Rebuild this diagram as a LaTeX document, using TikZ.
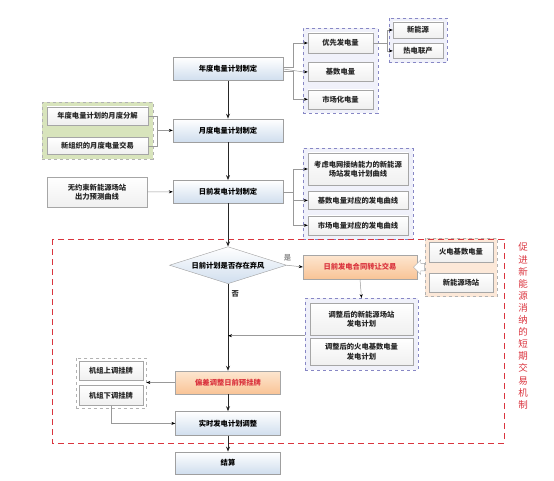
\documentclass[tikz,border=0pt]{standalone}
\usepackage{fontspec}
\usepackage{xcolor}
\usepackage{tikz}
\usetikzlibrary{arrows.meta,positioning,shapes.geometric,shapes.arrows,fit,backgrounds,calc}
\newfontfamily\cjk{Noto Sans CJK SC}
\definecolor{mainblue}{RGB}{208,222,238}
\definecolor{orglt}{RGB}{253,230,208}
\definecolor{orgdk}{RGB}{249,196,150}
\definecolor{mechred}{RGB}{218,52,62}
\definecolor{grpgreen}{RGB}{216,228,188}
\definecolor{grpblue}{RGB}{240,241,250}
\definecolor{peach}{RGB}{252,232,216}
\begin{document}
\begin{tikzpicture}[
  x=1pt,y=-1pt,
  font=\cjk\bfseries\fontsize{7.3}{9.5}\selectfont,
  mainbox/.style={draw=gray!75,top color=white,bottom color=mainblue,minimum width=110pt,minimum height=23pt,inner sep=1pt},
  subbox/.style={draw=gray!70,top color=white,bottom color=gray!12,align=center,inner sep=1pt,text=black!85},
  orgbox/.style={draw=gray!70,top color=orglt,bottom color=orgdk,text=mechred,inner sep=1pt},
  grp/.style={draw=blue!35!gray!70,dashed,fill=grpblue,inner sep=4.5pt},
  arr/.style={-{Stealth[length=4pt,width=3pt,black]},gray!80,line width=0.5pt},
  marr/.style={-{Stealth[length=5pt,width=4pt]},black!85,line width=0.8pt}
]
\useasboundingbox (0,0) rectangle (554,481);

% main column
\node[mainbox] (annual) at (228,69) {年度电量计划制定};
\node[mainbox,below=38pt of annual] (monthly) {月度电量计划制定};
\node[mainbox,below=38pt of monthly] (dayahead) {日前发电计划制定};
\node[diamond,aspect=3.16,draw=gray!75,top color=white,bottom color=mainblue,minimum width=117pt,minimum height=37pt,inner sep=0pt,below=43pt of dayahead] (curtail) {日前计划是否存在弃风};
\node[orgbox,minimum width=105pt,minimum height=23pt] (deviation) at (228,382.5) {偏差调整日前预挂牌};
\node[mainbox,minimum width=105pt,minimum height=24pt,below=17pt of deviation] (realtime) {实时发电计划调整};
\node[mainbox,minimum width=105pt,minimum height=22pt,below=16pt of realtime] (settle) {结算};

% annual plan parts
\node[subbox,minimum width=65pt,minimum height=20pt] (prior) at (340.5,43) {优先发电量};
\node[subbox,minimum width=65pt,minimum height=19pt,below=9pt of prior] (basic) {基数电量};
\node[subbox,minimum width=65pt,minimum height=19pt,below=8pt of basic] (market) {市场化电量};
\node[subbox,minimum width=50pt,minimum height=16pt] (newen) at (418,30) {新能源};
\node[subbox,minimum width=50pt,minimum height=15pt,below=5pt of newen] (chp) {热电联产};

% monthly inputs
\node[subbox,minimum width=101pt,minimum height=18pt] (split) at (97.5,116) {年度电量计划的月度分解};
\node[subbox,minimum width=101pt,minimum height=17pt,below=12pt of split] (newtrade) {新组织的月度电量交易};
\node[subbox,minimum width=100pt,minimum height=30pt] (forecast) at (97,192) {无约束新能源场站\\出力预测曲线};

% day-ahead curves
\node[subbox,minimum width=100pt,minimum height=32pt] (gridcurve) at (358,169) {考虑电网接纳能力的新能源\\场站发电计划曲线};
\node[subbox,minimum width=100pt,minimum height=18pt,below=6pt of gridcurve] (basecurve) {基数电量对应的发电曲线};
\node[subbox,minimum width=100pt,minimum height=19pt,below=6pt of basecurve] (mktcurve) {市场电量对应的发电曲线};

% transfer trade
\node[orgbox,minimum width=114pt,minimum height=24pt] (transfer) at (360,267) {日前发电合同转让交易};
\node[subbox,minimum width=64pt,minimum height=20pt] (thermal) at (461,252) {火电基数电量};
\node[subbox,minimum width=64pt,minimum height=19pt,below=11pt of thermal] (station) {新能源场站};
\node[subbox,minimum width=103pt,minimum height=32pt] (adjnew) at (361.5,319) {调整后的新能源场站\\发电计划};
\node[subbox,minimum width=103pt,minimum height=27pt,below=3pt of adjnew] (adjthermal) {调整后的火电基数电量\\发电计划};

% bidding
\node[subbox,minimum width=64pt,minimum height=19pt] (upbid) at (111,370.5) {机组上调挂牌};
\node[subbox,minimum width=64pt,minimum height=20pt,below=5pt of upbid] (downbid) {机组下调挂牌};

% groups
\begin{scope}[on background layer]
\node[grp,fit=(prior)(market)] (annualgrp) {};
\node[grp,inner sep=4pt,fit=(newen)(chp)] (priorgrp) {};
\node[grp,draw=gray!60,fill=grpgreen,inner sep=4.5pt,fit=(split)(newtrade)] (monthgrp) {};
\node[grp,fit=(gridcurve)(mktcurve)] (curvegrp) {};
\node[grp,draw=gray!60,fill=peach,inner sep=4pt,fit=(thermal)(station)] (sellgrp) {};
\node[grp,fit=(adjnew)(adjthermal)] (adjgrp) {};
\node[grp,draw=gray!60,fill=white,inner sep=3pt,fit=(upbid)(downbid)] (bidgrp) {};
\end{scope}

% short-term mechanism frame
\draw[mechred,dashed,dash pattern=on 6pt off 4pt,line width=0.8pt] (52,239) rectangle (504,443);
\node[text=mechred,font=\cjk\fontsize{9.5}{12.1}\selectfont,align=center,text width=10pt] (mechtxt) at (523,326) {促\\进\\新\\能\\源\\消\\纳\\的\\短\\期\\交\\易\\机\\制};

% connectors
\draw[marr] (annual) -- (monthly);
\draw[marr] (monthly) -- (dayahead);
\draw[marr] (dayahead) -- (curtail);
\draw[marr] (curtail) -- node[right,pos=0.12] {否} (deviation);
\draw[marr] (deviation) -- (realtime);
\draw[marr] (realtime) -- (settle);

\draw[arr] ([yshift=2pt]annual.east) -- ++(10,0) |- (prior.west);
\draw[arr] (annual.east) -- (basic.west -| annualgrp.west) -- (basic.west);
\draw[arr] ([yshift=-2pt]annual.east) -- ++(10,0) |- (market.west);
\draw[arr] (prior.east) -- ++(14,0) |- (newen.west);
\draw[arr] (prior.east) -- ++(14,0) |- (chp.west);

\coordinate (monthjoin) at ([xshift=-16pt]monthly.west);
\draw[gray!80,line width=0.5pt] (split.east) -| (monthjoin);
\draw[gray!80,line width=0.5pt] (newtrade.east) -| (monthjoin);
\draw[arr] (monthjoin) -- (monthly.west);
\draw[arr] (forecast.east) -- (dayahead.west);

\draw[arr] (dayahead.east) -- ++(10,0) |- (gridcurve.west);
\draw[arr] (dayahead.east) -- ++(10,0) |- (basecurve.west);
\draw[arr] (dayahead.east) -- ++(10,0) |- (mktcurve.west);

\draw[arr] (curtail.east) -- node[above,pos=0.05] {是} (transfer.west);
\draw[arr] (transfer.south) -- (adjgrp.north);
\node[single arrow,draw=gray!70,fill=white,shape border rotate=180,minimum width=14pt,minimum height=10pt,single arrow head extend=3.5pt,inner sep=3.5pt] (sellarrow) at ($(transfer.east)!0.5!(sellgrp.west)$) {};
\draw[arr] ([yshift=-1.5pt]adjgrp.west) -- ([yshift=-1.5pt]adjgrp.west -| curtail.south);
\draw[arr] (deviation.west) -- (deviation.west -| bidgrp.east);
\draw[arr] (downbid.south) |- (realtime.west);

\end{tikzpicture}
\end{document}
